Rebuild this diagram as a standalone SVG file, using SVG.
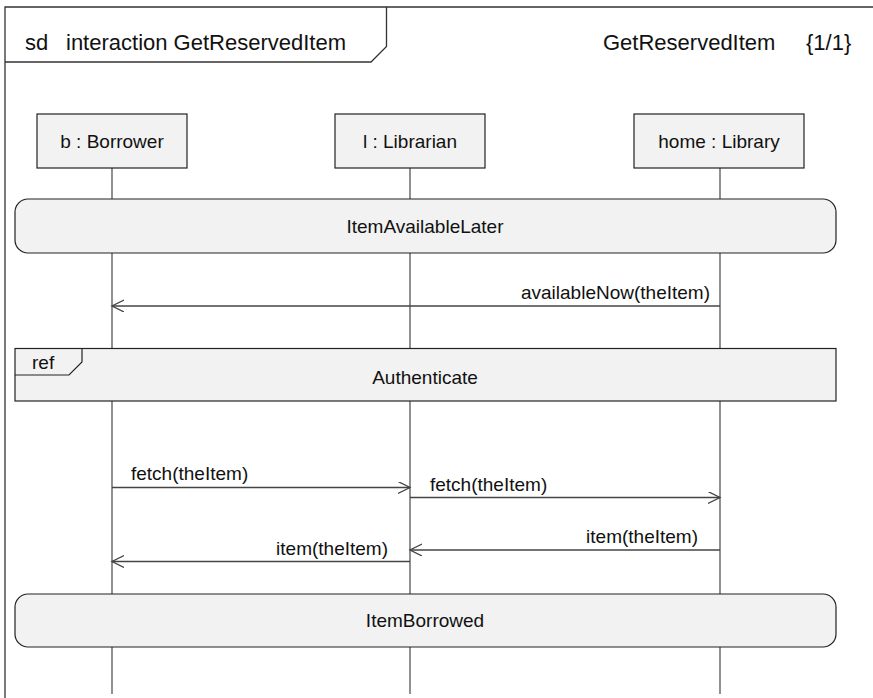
<svg xmlns="http://www.w3.org/2000/svg" width="873" height="698" viewBox="0 0 873 698">
  <style>
    text { font-family: "Liberation Sans", Arial, sans-serif; fill: #111; }
    .title { font-size: 22px; }
    .lbl { font-size: 19px; }
    .mid { text-anchor: middle; }
    .end { text-anchor: end; }
    .frame { fill: none; stroke: #333; stroke-width: 1.3; }
    .box { fill: #f2f2f2; stroke: #222; stroke-width: 1.2; }
    .life { stroke: #555; stroke-width: 1.3; fill: none; }
    .msg { stroke: #444; stroke-width: 1.3; fill: none; marker-end: url(#open); }
  </style>
  <defs>
    <marker id="open" markerUnits="userSpaceOnUse" markerWidth="16" markerHeight="14" refX="12" refY="6" orient="auto">
      <path d="M0,0 L12,6 L0,12" fill="none" stroke="#444" stroke-width="1.3"/>
    </marker>
  </defs>

  <!-- interaction frame -->
  <g id="frame">
    <path class="frame" d="M5,698 V7 H873"/>
    <path class="frame" d="M5,62 H371 L386.5,46.5 V7"/>
    <text class="title" x="25" y="50">sd</text>
    <text class="title" x="66" y="50">interaction GetReservedItem</text>
    <text class="title" x="603" y="50">GetReservedItem</text>
    <text class="title" x="806" y="50">{1/1}</text>
  </g>

  <!-- lifelines -->
  <g id="lifelines">
    <line class="life" x1="112" y1="168" x2="112" y2="694"/>
    <line class="life" x1="410" y1="168" x2="410" y2="694"/>
    <line class="life" x1="720" y1="168" x2="720" y2="694"/>
  </g>

  <g id="borrower">
    <rect class="box" x="37" y="114" width="150" height="54"/>
    <text class="lbl mid" x="112" y="147.5">b : Borrower</text>
  </g>
  <g id="librarian">
    <rect class="box" x="335" y="114" width="150" height="54"/>
    <text class="lbl mid" x="410" y="147.5">l : Librarian</text>
  </g>
  <g id="library">
    <rect class="box" x="634" y="114" width="170" height="54"/>
    <text class="lbl mid" x="719" y="147.5">home : Library</text>
  </g>

  <!-- state invariants / interaction use -->
  <g id="itemAvailableLater">
    <rect class="box" x="15" y="199" width="821" height="54" rx="13" ry="13"/>
    <text class="lbl mid" x="425" y="232.5">ItemAvailableLater</text>
  </g>

  <g id="authenticate">
    <rect class="box" x="15" y="348.5" width="821" height="52.5"/>
    <path class="box" d="M15,375 H69 L82,362 V348.5" fill="none" style="fill:none"/>
    <text class="lbl" x="32" y="369">ref</text>
    <text class="lbl mid" x="425" y="384">Authenticate</text>
  </g>

  <g id="itemBorrowed">
    <rect class="box" x="15" y="594" width="821" height="53" rx="13" ry="13"/>
    <text class="lbl mid" x="425" y="627">ItemBorrowed</text>
  </g>

  <!-- messages -->
  <g id="messages">
    <line class="msg" x1="720" y1="306" x2="112" y2="306"/>
    <text class="lbl end" x="710" y="299">availableNow(theItem)</text>

    <line class="msg" x1="112" y1="487.5" x2="410" y2="487.5"/>
    <text class="lbl" x="131" y="480">fetch(theItem)</text>

    <line class="msg" x1="410" y1="497.5" x2="720" y2="497.5"/>
    <text class="lbl" x="430" y="490.5">fetch(theItem)</text>

    <line class="msg" x1="720" y1="550" x2="410" y2="550"/>
    <text class="lbl end" x="698" y="543">item(theItem)</text>

    <line class="msg" x1="410" y1="561.5" x2="112" y2="561.5"/>
    <text class="lbl end" x="388" y="554.5">item(theItem)</text>
  </g>
</svg>
